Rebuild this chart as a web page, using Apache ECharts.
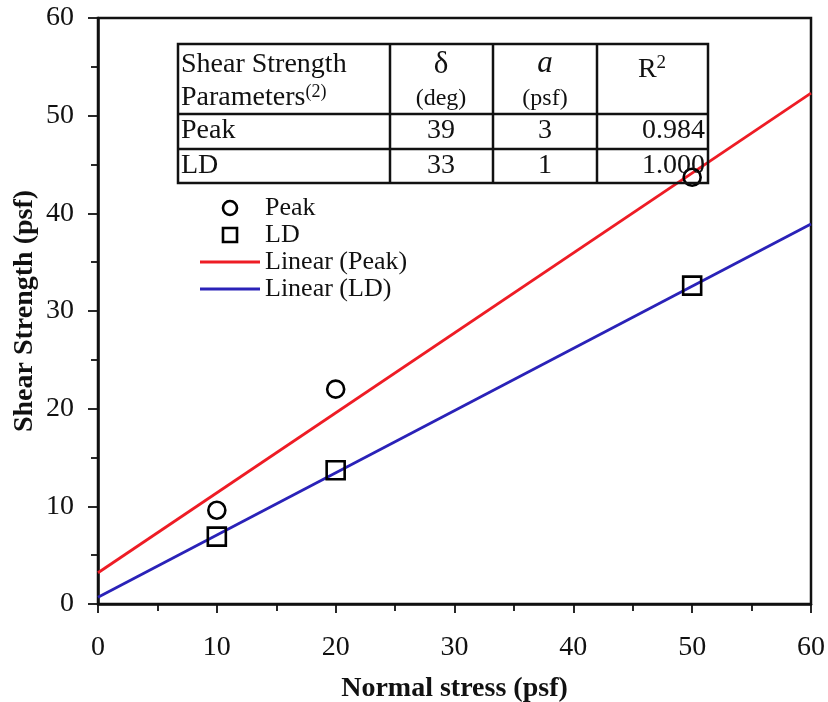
<!DOCTYPE html>
<html>
<head>
<meta charset="utf-8">
<script src="https://cdn.jsdelivr.net/npm/echarts@6/dist/echarts.min.js"></script>
<style>
html,body{margin:0;padding:0;background:#fff;}
#chart{width:828px;height:702px;}
</style>
</head>
<body>
<div id="chart"></div>
<script>
// ---- data ----
const normalStress = [10, 20, 50];
const peakStrength = [9.6, 22.0, 43.7];
const ldStrength = [6.9, 13.7, 32.6];
const peakFitEnds = [[0, 3.2], [60, 52.3]];
const ldFitEnds = [[0, 0.7], [60, 38.9]];
const tableHeader = ['Shear Strength', 'Parameters', 'δ', '(deg)', 'a', '(psf)', 'R'];
const tableRowNames = ['Peak', 'LD'];
const tableDelta = ['39', '33'];
const tableA = ['3', '1'];
const tableR2 = ['0.984', '1.000'];

const FONT = '"Liberation Serif", "Times New Roman", serif';
const chart = echarts.init(document.getElementById('chart'));

const peakData = normalStress.map((x, i) => [x, peakStrength[i]]);
const ldData = normalStress.map((x, i) => [x, ldStrength[i]]);

// table layout
const T = {x0: 178, x1: 708, y0: 44, y1: 183, cols: [390, 493, 597], rows: [114, 149]};
const rowY = [131, 166];
const colC = [441, 545];
const txt = (x, y, text, align, extra) => Object.assign({
  type: 'text', x: x, y: y, z: 50,
  style: Object.assign({text: text, font: '28px ' + FONT, fill: '#111', align: align || 'left', verticalAlign: 'middle'}, extra || {})
});
const graphics = [];
graphics.push({type: 'rect', z: 40, shape: {x: T.x0, y: T.y0, width: T.x1 - T.x0, height: T.y1 - T.y0}, style: {fill: 'none', stroke: '#111', lineWidth: 2.5}});
T.cols.forEach(c => graphics.push({type: 'line', z: 40, shape: {x1: c, y1: T.y0, x2: c, y2: T.y1}, style: {stroke: '#111', lineWidth: 2.5}}));
T.rows.forEach(r => graphics.push({type: 'line', z: 40, shape: {x1: T.x0, y1: r, x2: T.x1, y2: r}, style: {stroke: '#111', lineWidth: 2.5}}));
graphics.push(txt(181, 65, tableHeader[0]));
graphics.push({
  type: 'text', x: 181, y: 98, z: 50,
  style: {
    text: tableHeader[1] + '{sup|(2)}', font: '28px ' + FONT, fill: '#111', verticalAlign: 'middle',
    rich: {sup: {fontSize: 18, fontFamily: FONT, verticalAlign: 'top', padding: [0, 0, 12, 0], fill: '#111'}}
  }
});
graphics.push(txt(colC[0], 65, tableHeader[2], 'center', {font: '31px ' + FONT}));
graphics.push(txt(colC[0], 99, tableHeader[3], 'center', {font: '24px ' + FONT}));
graphics.push(txt(colC[1], 64, tableHeader[4], 'center', {font: 'italic 31px ' + FONT}));
graphics.push(txt(colC[1], 99, tableHeader[5], 'center', {font: '24px ' + FONT}));
graphics.push({
  type: 'text', x: 652, y: 70, z: 50,
  style: {
    text: tableHeader[6] + '{sup|2}', font: '28px ' + FONT, fill: '#111', align: 'center', verticalAlign: 'middle',
    rich: {sup: {fontSize: 19, fontFamily: FONT, padding: [0, 0, 14, 0], fill: '#111'}}
  }
});
tableRowNames.forEach((n, i) => {
  graphics.push(txt(181, rowY[i], n));
  graphics.push(txt(colC[0], rowY[i], tableDelta[i], 'center'));
  graphics.push(txt(colC[1], rowY[i], tableA[i], 'center'));
  graphics.push(txt(705, rowY[i], tableR2[i], 'right'));
});

const lineIcon = 'path://M0,0L60,0L60,2.8L0,2.8Z';
const option = {
  backgroundColor: '#fff',
  animation: false,
  grid: {left: 98, right: 17, top: 18, bottom: 98, outerBoundsMode: 'none', containLabel: false,
    show: true, borderColor: '#111', borderWidth: 2.5, backgroundColor: 'transparent'},
  xAxis: {
    type: 'value', min: 0, max: 60, interval: 10,
    name: 'Normal stress (psf)', nameLocation: 'middle', nameGap: 71, nameMoveOverlap: false,
    nameTextStyle: {fontFamily: FONT, fontWeight: 'bold', fontSize: 28, color: '#111'},
    axisLine: {show: true, lineStyle: {color: '#111', width: 2.5}},
    axisTick: {show: true, inside: false, length: 9, lineStyle: {color: '#111', width: 1.8}},
    minorTick: {show: true, splitNumber: 2, length: 7, lineStyle: {color: '#111', width: 1.8}},
    axisLabel: {fontFamily: FONT, fontSize: 28, color: '#111', margin: 30},
    splitLine: {show: false}
  },
  yAxis: {
    type: 'value', min: 0, max: 60, interval: 10,
    name: 'Shear Strength (psf)', nameLocation: 'middle', nameGap: 59, nameMoveOverlap: false,
    nameTextStyle: {fontFamily: FONT, fontWeight: 'bold', fontSize: 28, color: '#111'},
    axisLine: {show: true, lineStyle: {color: '#111', width: 2.5}},
    axisTick: {show: true, inside: false, length: 10, lineStyle: {color: '#111', width: 1.8}},
    minorTick: {show: true, splitNumber: 2, length: 7, lineStyle: {color: '#111', width: 1.8}},
    axisLabel: {fontFamily: FONT, fontSize: 28, color: '#111', margin: 24},
    splitLine: {show: false}
  },
  legend: {
    orient: 'vertical', left: 195, top: 190,
    itemWidth: 60, itemHeight: 14, itemGap: 1,
    textStyle: {fontFamily: FONT, fontSize: 26, color: '#111', lineHeight: 22},
    data: [
      {name: 'Peak', icon: 'circle', itemStyle: {borderWidth: 2.6, borderColor: '#000'}},
      {name: 'LD', icon: 'path://M0,0L10,0L10,10L0,10Z', itemStyle: {borderWidth: 2.6, borderColor: '#000'}},
      {name: 'Linear (Peak)', icon: lineIcon},
      {name: 'Linear (LD)', icon: lineIcon}
    ]
  },
  series: [
    {
      name: 'Linear (Peak)', type: 'line', data: peakFitEnds, symbol: 'none', z: 2,
      lineStyle: {color: '#ee1c25', width: 2.8}, itemStyle: {color: '#ee1c25'}
    },
    {
      name: 'Linear (LD)', type: 'line', data: ldFitEnds, symbol: 'none', z: 2,
      lineStyle: {color: '#2a22b8', width: 2.8}, itemStyle: {color: '#2a22b8'}
    },
    {
      name: 'Peak', type: 'scatter', data: peakData, symbol: 'circle', symbolSize: 17, z: 3,
      itemStyle: {color: 'rgba(255,255,255,0)', borderColor: '#000', borderWidth: 2.6, opacity: 1}
    },
    {
      name: 'LD', type: 'scatter', data: ldData, symbol: 'rect', symbolSize: 18, z: 3,
      itemStyle: {color: 'rgba(255,255,255,0)', borderColor: '#000', borderWidth: 2.6, opacity: 1}
    }
  ],
  graphic: graphics
};
chart.setOption(option);
</script>
</body>
</html>
